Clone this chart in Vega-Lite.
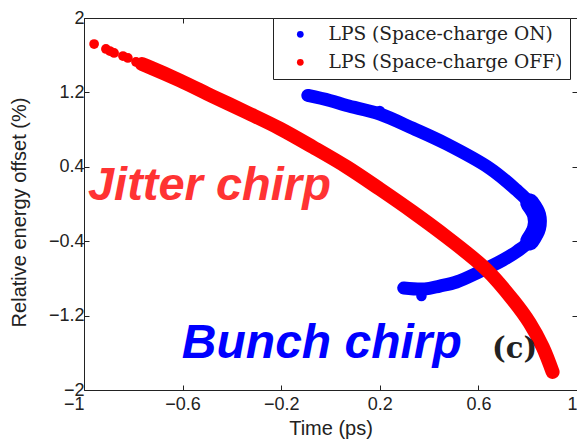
{
  "$schema": "https://vega.github.io/schema/vega-lite/v6.json",
  "width": 493,
  "height": 372,
  "autosize": {"type": "none"},
  "padding": {"left": 84, "top": 18, "right": 0, "bottom": 53},
  "background": "white",
  "config": {
    "view": {"stroke": null},
    "font": "Liberation Sans",
    "axis": {
      "grid": false,
      "domainColor": "#222222",
      "domainWidth": 1,
      "tickColor": "#222222",
      "tickSize": -5,
      "labelFont": "Liberation Sans",
      "labelFontSize": 18,
      "labelColor": "#222222",
      "titleFont": "Liberation Sans",
      "titleFontSize": 20,
      "titleFontWeight": "normal",
      "titleColor": "#222222"
    },
    "legend": {
      "orient": "none",
      "legendX": 189,
      "legendY": 0,
      "strokeColor": "#222222",
      "fillColor": "white",
      "padding": 7,
      "labelFont": "DejaVu Serif",
      "labelFontSize": 18.6,
      "labelColor": "#222222",
      "labelLimit": 0,
      "symbolSize": 45,
      "symbolType": "circle",
      "symbolOpacity": 1,
      "rowPadding": 9,
      "labelOffset": 19,
      "symbolOffset": 11
    }
  },
  "datasets": {
    "curves": [
      {"series": "LPS (Space-charge ON)", "k": 1, "t": -0.092, "e": 1.167},
      {"series": "LPS (Space-charge ON)", "k": 2, "t": -0.003, "e": 1.113},
      {"series": "LPS (Space-charge ON)", "k": 3, "t": 0.066, "e": 1.059},
      {"series": "LPS (Space-charge ON)", "k": 4, "t": 0.2, "e": 0.968},
      {"series": "LPS (Space-charge ON)", "k": 5, "t": 0.334, "e": 0.814},
      {"series": "LPS (Space-charge ON)", "k": 6, "t": 0.471, "e": 0.645},
      {"series": "LPS (Space-charge ON)", "k": 7, "t": 0.646, "e": 0.384},
      {"series": "LPS (Space-charge ON)", "k": 8, "t": 0.754, "e": 0.151},
      {"series": "LPS (Space-charge ON)", "k": 9, "t": 0.808, "e": 0.011},
      {"series": "LPS (Space-charge ON)", "k": 10, "t": 0.836, "e": -0.118},
      {"series": "LPS (Space-charge ON)", "k": 11, "t": 0.836, "e": -0.258},
      {"series": "LPS (Space-charge ON)", "k": 12, "t": 0.808, "e": -0.398},
      {"series": "LPS (Space-charge ON)", "k": 13, "t": 0.759, "e": -0.505},
      {"series": "LPS (Space-charge ON)", "k": 14, "t": 0.7, "e": -0.602},
      {"series": "LPS (Space-charge ON)", "k": 15, "t": 0.605, "e": -0.728},
      {"series": "LPS (Space-charge ON)", "k": 16, "t": 0.511, "e": -0.839},
      {"series": "LPS (Space-charge ON)", "k": 17, "t": 0.443, "e": -0.882},
      {"series": "LPS (Space-charge ON)", "k": 18, "t": 0.382, "e": -0.914},
      {"series": "LPS (Space-charge ON)", "k": 19, "t": 0.297, "e": -0.903},
      {"series": "LPS (Space-charge OFF)", "k": 1, "t": -0.765, "e": 1.505},
      {"series": "LPS (Space-charge OFF)", "k": 2, "t": -0.745, "e": 1.484},
      {"series": "LPS (Space-charge OFF)", "k": 3, "t": -0.611, "e": 1.328},
      {"series": "LPS (Space-charge OFF)", "k": 4, "t": -0.477, "e": 1.156},
      {"series": "LPS (Space-charge OFF)", "k": 5, "t": -0.339, "e": 0.984},
      {"series": "LPS (Space-charge OFF)", "k": 6, "t": -0.206, "e": 0.812},
      {"series": "LPS (Space-charge OFF)", "k": 7, "t": -0.072, "e": 0.613},
      {"series": "LPS (Space-charge OFF)", "k": 8, "t": 0.066, "e": 0.398},
      {"series": "LPS (Space-charge OFF)", "k": 9, "t": 0.2, "e": 0.161},
      {"series": "LPS (Space-charge OFF)", "k": 10, "t": 0.334, "e": -0.086},
      {"series": "LPS (Space-charge OFF)", "k": 11, "t": 0.471, "e": -0.355},
      {"series": "LPS (Space-charge OFF)", "k": 12, "t": 0.634, "e": -0.71},
      {"series": "LPS (Space-charge OFF)", "k": 13, "t": 0.74, "e": -1.032},
      {"series": "LPS (Space-charge OFF)", "k": 14, "t": 0.808, "e": -1.28},
      {"series": "LPS (Space-charge OFF)", "k": 15, "t": 0.861, "e": -1.538},
      {"series": "LPS (Space-charge OFF)", "k": 16, "t": 0.901, "e": -1.806}
    ],
    "dots": [
      {"series": "LPS (Space-charge OFF)", "t": -0.959, "e": 1.72},
      {"series": "LPS (Space-charge OFF)", "t": -0.911, "e": 1.667},
      {"series": "LPS (Space-charge OFF)", "t": -0.895, "e": 1.645},
      {"series": "LPS (Space-charge OFF)", "t": -0.878, "e": 1.624},
      {"series": "LPS (Space-charge OFF)", "t": -0.842, "e": 1.591},
      {"series": "LPS (Space-charge OFF)", "t": -0.822, "e": 1.57},
      {"series": "LPS (Space-charge OFF)", "t": -0.789, "e": 1.527}
    ],
    "bluelumps": [
      {"series": "LPS (Space-charge ON)", "t": 0.369, "e": -0.99},
      {"series": "LPS (Space-charge ON)", "t": 0.2, "e": 1.0}
    ]
  },
  "layer": [
    {
      "data": {"name": "curves"},
      "transform": [{"filter": "datum.series == 'LPS (Space-charge ON)'"}],
      "mark": {"type": "line", "strokeWidth": 13, "strokeCap": "round", "strokeJoin": "round", "interpolate": "catmull-rom"},
      "encoding": {
        "x": {"field": "t", "type": "quantitative", "scale": {"domain": [-1, 1], "nice": false, "zero": false},
          "axis": {"orient": "bottom", "title": "Time (ps)", "values": [-1, -0.6, -0.2, 0.2, 0.6, 1], "format": "~g", "labelPadding": 10, "titlePadding": 5,
            "labelAlign": {"condition": {"test": "datum.value == -1 || datum.value == 1", "value": "right"}, "value": "center"}}},
        "y": {"field": "e", "type": "quantitative", "scale": {"domain": [-2, 2], "nice": false, "zero": false},
          "axis": {"orient": "left", "title": "Relative energy offset (%)", "values": [-2, -1.2, -0.4, 0.4, 1.2, 2], "format": "~g", "labelPadding": 5, "titleX": -55, "titleY": 194}},
        "order": {"field": "k", "type": "quantitative"},
        "color": {"field": "series", "type": "nominal", "scale": {"domain": ["LPS (Space-charge ON)", "LPS (Space-charge OFF)"], "range": ["#0000ff", "#ff0000"]}, "legend": null}
      }
    },
    {
      "data": {"name": "curves"},
      "transform": [{"filter": "datum.series == 'LPS (Space-charge ON)' && datum.k >= 9 && datum.k <= 12"}],
      "mark": {"type": "line", "strokeWidth": 19, "strokeCap": "round", "strokeJoin": "round", "interpolate": "catmull-rom"},
      "encoding": {
        "x": {"field": "t", "type": "quantitative", "axis": {"orient": "top", "labels": false, "title": null, "values": [-1, -0.6, -0.2, 0.2, 0.6, 1]}},
        "y": {"field": "e", "type": "quantitative", "axis": {"orient": "right", "labels": false, "title": null, "values": [-2, -1.2, -0.4, 0.4, 1.2, 2]}},
        "order": {"field": "k", "type": "quantitative"},
        "color": {"field": "series", "type": "nominal", "legend": null}
      }
    },
    {
      "data": {"name": "bluelumps"},
      "mark": {"type": "point", "filled": true, "opacity": 1, "size": 110},
      "encoding": {
        "x": {"field": "t", "type": "quantitative", "axis": null},
        "y": {"field": "e", "type": "quantitative", "axis": null},
        "color": {"field": "series", "type": "nominal", "legend": null}
      }
    },
    {
      "data": {"name": "curves"},
      "transform": [{"filter": "datum.series == 'LPS (Space-charge OFF)'"}],
      "mark": {"type": "line", "strokeWidth": 14, "strokeCap": "round", "strokeJoin": "round", "interpolate": "catmull-rom"},
      "encoding": {
        "x": {"field": "t", "type": "quantitative", "axis": null},
        "y": {"field": "e", "type": "quantitative", "axis": null},
        "order": {"field": "k", "type": "quantitative"},
        "color": {"field": "series", "type": "nominal", "legend": null}
      }
    },
    {
      "data": {"name": "dots"},
      "mark": {"type": "point", "filled": true, "opacity": 1, "size": 95},
      "encoding": {
        "x": {"field": "t", "type": "quantitative", "axis": null},
        "y": {"field": "e", "type": "quantitative", "axis": null},
        "color": {"field": "series", "type": "nominal", "legend": {"title": null}}
      }
    },
    {
      "data": {"values": [{"label": "Jitter chirp", "t": -0.984, "e": 0.043}]},
      "mark": {"type": "text", "align": "left", "baseline": "alphabetic", "font": "Liberation Sans", "fontSize": 47, "fontWeight": "bold", "fontStyle": "italic", "color": "#ff3333"},
      "encoding": {
        "x": {"field": "t", "type": "quantitative", "axis": null},
        "y": {"field": "e", "type": "quantitative", "axis": null},
        "text": {"field": "label"}
      }
    },
    {
      "data": {"values": [{"label": "Bunch chirp", "t": -0.603, "e": -1.656}]},
      "mark": {"type": "text", "align": "left", "baseline": "alphabetic", "font": "Liberation Sans", "fontSize": 48, "fontWeight": "bold", "fontStyle": "italic", "color": "#0000ff"},
      "encoding": {
        "x": {"field": "t", "type": "quantitative", "axis": null},
        "y": {"field": "e", "type": "quantitative", "axis": null},
        "text": {"field": "label"}
      }
    },
    {
      "data": {"values": [{"label": "(c)", "t": 0.747, "e": -1.66}]},
      "mark": {"type": "text", "align": "center", "baseline": "alphabetic", "font": "DejaVu Serif", "fontSize": 29, "fontWeight": "bold", "color": "#222222"},
      "encoding": {
        "x": {"field": "t", "type": "quantitative", "axis": null},
        "y": {"field": "e", "type": "quantitative", "axis": null},
        "text": {"field": "label"}
      }
    }
  ],
  "resolve": {"axis": {"x": "independent", "y": "independent"}, "legend": {"color": "independent"}}
}
